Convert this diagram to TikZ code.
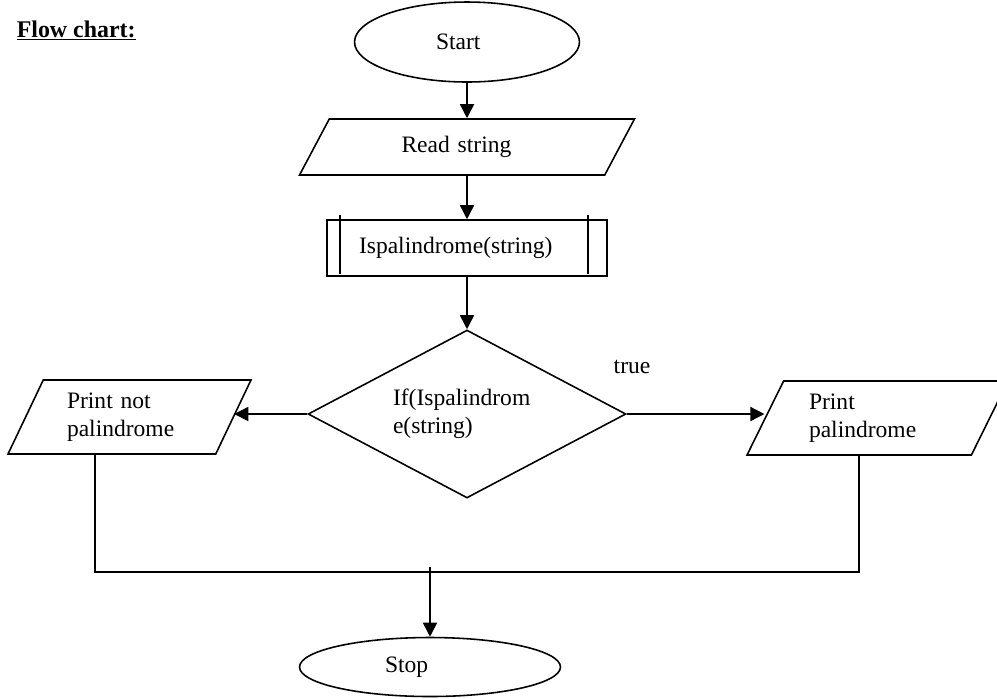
\documentclass[tikz,border=0pt]{standalone}
\usepackage{fontspec}
\setmainfont{Liberation Serif}
\usetikzlibrary{arrows.meta}
\usetikzlibrary{shapes.geometric}
\tikzset{
	box/.style={draw, line width=0.9pt, font=\fontsize{13.4}{16}\selectfont, inner sep=1pt},
	term/.style={box, ellipse},
	io/.style={box, trapezium, trapezium stretches body},
	txt/.style={text width=#1, align=left},
}

\begin{document}
\begin{tikzpicture}[x=0.02cm, y=-0.02cm, line width=0.9pt, >={Triangle[length=8pt, width=8pt]}]
	\useasboundingbox (0,0) rectangle (997,698);
	\clip (0,0) rectangle (997,698);
	\node[anchor=base west, inner sep=0pt, font=\fontsize{13.6}{16}\selectfont\bfseries] (title) at (16,37) {\underline{Flow chart:}};
	% blocks
	\node[term, txt=1.24cm, minimum width=4.5cm, minimum height=1.6cm] (start) at (467,42) {Start};
	\node[io, txt=2.62cm, trapezium left angle=40, trapezium right angle=140, minimum width=6.7cm, minimum height=1.12cm] (read) at (467,147) {Read string};
	\node[box, txt=4.32cm, minimum width=5.6cm, minimum height=1.12cm] (proc) at (467,248) {Ispalindrome(string)};
	\draw ([xshift=0.28cm, yshift=0.08cm]proc.north west) -- ([xshift=0.28cm, yshift=0.06cm]proc.south west);
	\draw ([xshift=-0.39cm, yshift=0.08cm]proc.north east) -- ([xshift=-0.39cm, yshift=0.06cm]proc.south east);
	\node[box, diamond, aspect=1.9, inner sep=0pt, txt=2.96cm, minimum width=6.36cm, minimum height=3.36cm] (test) at (467,414) {If(Ispalindrom\\e(string)\\[4pt]};
	\node[font=\fontsize{13.4}{16}\selectfont] (true) at (632,367) {true};
	\node[io, txt=2.5cm, trapezium left angle=56, trapezium right angle=124, minimum width=4.86cm, minimum height=1.48cm] (notpal) at (129.5,417) {Print not\\palindrome};
	\node[io, txt=2.74cm, trapezium left angle=55, trapezium right angle=125, minimum width=5.22cm, minimum height=1.48cm] (pal) at (877.5,418) {Print\\palindrome};
	\node[term, txt=1.8cm, minimum width=5.22cm, minimum height=1.18cm] (stop) at (430,667) {Stop};
	% joins
	\coordinate (jl) at (95,572);
	\coordinate (jr) at (859,572);
	\coordinate (jm) at (430,567);
	% arrows
	\draw[->] (start) -- (read);
	\draw[->] (read) -- (proc);
	\draw[->] (proc) -- (test);
	\draw[->] (test.west) -- (test.west -| notpal.east);
	\draw[->] (test.east) -- (test.east -| pal.west);
	\draw (notpal.south -| jl) -- (jl) -- (jr) -- (pal.south -| jr);
	\draw[->] (jm) -- (stop);
\end{tikzpicture}
\end{document}
